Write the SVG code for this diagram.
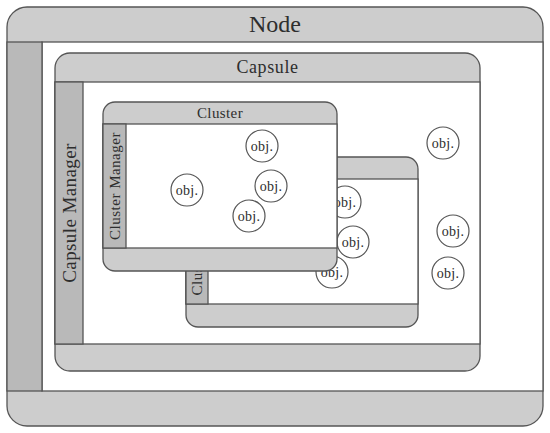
<svg xmlns="http://www.w3.org/2000/svg" width="550" height="433" viewBox="0 0 550 433">
<style>
.band{fill:#cdcdcd;stroke:#555;stroke-width:1.3}
.inner{fill:#fff;stroke:#555;stroke-width:1.3}
.bar{fill:#b9b9b9;stroke:#555;stroke-width:1.3}
.t{font-family:"Liberation Serif","DejaVu Serif",serif;fill:#2e2e2e;text-anchor:middle;dominant-baseline:central}
.obj circle{fill:#fff;stroke:#555;stroke-width:1.2}
.obj text{font-family:"Liberation Serif","DejaVu Serif",serif;fill:#2e2e2e;font-size:14px;letter-spacing:0.3px;text-anchor:middle;dominant-baseline:central}
</style>
<rect width="550" height="433" fill="#fff"/>
<g id="node">
<rect class="band" x="7" y="7" width="536" height="419" rx="20"/>
<rect class="inner" x="42" y="42" width="501" height="349"/>
<rect class="bar" x="7" y="42" width="35" height="349"/>
<text class="t" x="275" y="24" font-size="24">Node</text>
</g>
<g id="capsule">
<rect class="band" x="55" y="53" width="425" height="318" rx="15"/>
<rect class="inner" x="55" y="82" width="425" height="262"/>
<rect class="bar" x="55" y="82" width="28" height="262"/>
<text class="t" x="267.5" y="67" font-size="18" letter-spacing="0.6">Capsule</text>
<text class="t" x="69" y="213" font-size="19" letter-spacing="0.4" transform="rotate(-90 69 213)">Capsule Manager</text>
</g>
<g id="objs-capsule">
<g class="obj"><circle cx="443" cy="143" r="16"/><text x="443" y="143">obj.</text></g>
<g class="obj"><circle cx="453" cy="231" r="16"/><text x="453" y="231">obj.</text></g>
<g class="obj"><circle cx="448" cy="273" r="16"/><text x="448" y="273">obj.</text></g>
</g>
<g id="cluster2">
<rect class="band" x="186" y="157" width="232" height="170" rx="12"/>
<rect class="inner" x="186" y="179" width="232" height="125"/>
<rect class="bar" x="186" y="179" width="22" height="125"/>
<text class="t" x="197" y="241.5" font-size="15" letter-spacing="0.5" transform="rotate(-90 197 241.5)">Cluster Manager</text>
<g class="obj"><circle cx="345" cy="202" r="16"/><text x="345" y="202">obj.</text></g>
<g class="obj"><circle cx="353" cy="242" r="16"/><text x="353" y="242">obj.</text></g>
<g class="obj"><circle cx="332" cy="272" r="16"/><text x="332" y="272">obj.</text></g>
</g>
<g id="cluster1">
<rect class="band" x="103" y="102" width="234" height="169" rx="12"/>
<rect class="inner" x="103" y="124" width="234" height="124"/>
<rect class="bar" x="103" y="124" width="23" height="124"/>
<text class="t" x="220" y="113" font-size="15" letter-spacing="0.4">Cluster</text>
<text class="t" x="114.5" y="186" font-size="15" letter-spacing="0.5" transform="rotate(-90 114.5 186)">Cluster Manager</text>
<g class="obj"><circle cx="262" cy="146" r="16"/><text x="262" y="146">obj.</text></g>
<g class="obj"><circle cx="187" cy="190" r="16"/><text x="187" y="190">obj.</text></g>
<g class="obj"><circle cx="271" cy="186" r="16"/><text x="271" y="186">obj.</text></g>
<g class="obj"><circle cx="249" cy="216" r="16"/><text x="249" y="216">obj.</text></g>
</g>
<g id="connectors"></g>
</svg>
